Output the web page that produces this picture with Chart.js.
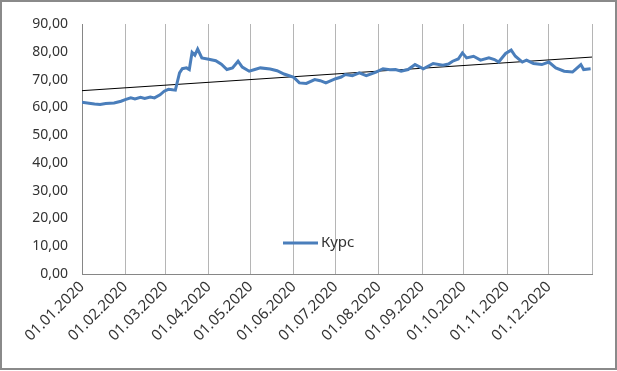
<!DOCTYPE html>
<html>
<head>
<meta charset="utf-8">
<script src="https://cdn.jsdelivr.net/npm/chart.js@4.4.1/dist/chart.umd.min.js"></script>
<style>
  html, body { margin: 0; padding: 0; background: #fff; }
  #wrap { position: relative; width: 617px; height: 371px; }
</style>
</head>
<body>
<div id="wrap"><canvas id="chart"></canvas></div>
<script>
// Курс (USD/RUB) 2020
const dates = [
  '01.01.2020','06.01.2020','10.01.2020','14.01.2020','18.01.2020','24.01.2020','29.01.2020',
  '01.02.2020','05.02.2020','08.02.2020','12.02.2020','15.02.2020','19.02.2020','22.02.2020','26.02.2020','29.02.2020',
  '03.03.2020','06.03.2020','08.03.2020','11.03.2020','13.03.2020','16.03.2020','18.03.2020','20.03.2020','22.03.2020','24.03.2020','27.03.2020',
  '01.04.2020','06.04.2020','10.04.2020','14.04.2020','18.04.2020','22.04.2020','25.04.2020','30.04.2020',
  '04.05.2020','08.05.2020','15.05.2020','20.05.2020','25.05.2020',
  '01.06.2020','05.06.2020','10.06.2020','16.06.2020','20.06.2020','24.06.2020',
  '01.07.2020','05.07.2020','08.07.2020','13.07.2020','18.07.2020','23.07.2020','30.07.2020',
  '04.08.2020','09.08.2020','13.08.2020','17.08.2020','22.08.2020','27.08.2020',
  '02.09.2020','09.09.2020','16.09.2020','20.09.2020','23.09.2020','27.09.2020','30.09.2020',
  '03.10.2020','08.10.2020','13.10.2020','19.10.2020','23.10.2020','26.10.2020','31.10.2020',
  '04.11.2020','07.11.2020','12.11.2020','15.11.2020','20.11.2020','26.11.2020',
  '01.12.2020','06.12.2020','12.12.2020','18.12.2020','20.12.2020','24.12.2020','26.12.2020','31.12.2020'
];
const rates = [
  61.8, 61.5, 61.2, 61.0, 61.4, 61.6, 62.2,
  62.8, 63.4, 63.0, 63.6, 63.2, 63.7, 63.4, 64.5, 65.8,
  66.5, 66.3, 66.2, 72.4, 73.9, 74.2, 73.6, 79.8, 78.8, 81.0, 77.8,
  77.3, 76.8, 75.5, 73.6, 74.2, 76.6, 74.5, 73.0,
  73.6, 74.2, 73.8, 73.2, 72.0,
  70.8, 68.8, 68.6, 70.0, 69.6, 68.8,
  70.3, 70.9, 71.8, 71.4, 72.4, 71.4, 72.7,
  73.9, 73.5, 73.6, 73.0, 73.6, 75.4,
  73.9, 75.8, 75.2, 75.6, 76.6, 77.4, 79.6,
  77.8, 78.4, 77.0, 77.8, 77.2, 76.3, 79.4,
  80.6, 78.4, 76.3, 77.0, 75.8, 75.4,
  76.3, 74.2, 73.0, 72.7, 73.6, 75.4, 73.6, 73.9
];
// linear trend line endpoints (01.01.2020 and 01.01.2021)
const trendDates = ['01.01.2020', '01.01.2021'];
const trendValues = [66.0, 78.1];

const monthTicks = ['01.01.2020','01.02.2020','01.03.2020','01.04.2020','01.05.2020','01.06.2020',
  '01.07.2020','01.08.2020','01.09.2020','01.10.2020','01.11.2020','01.12.2020','01.01.2021'];
const yTicks = [0, 10, 20, 30, 40, 50, 60, 70, 80, 90];

// day number since 01.01.2020
function dayOf(s) {
  const [d, m, y] = s.split('.').map(Number);
  return (Date.UTC(y, m - 1, d) - Date.UTC(2020, 0, 1)) / 86400000;
}
const tickDays = monthTicks.map(dayOf);
const lastDay = tickDays[tickDays.length - 1];

const fontFamily = "'Noto Sans', sans-serif";
const textColor = '#333333';
const lineBlue = '#4a7ebb';

// Legend drawn inside the plot, as in the original
const innerLegend = {
  id: 'innerLegend',
  afterDatasetsDraw(chart) {
    const { ctx } = chart;
    ctx.save();
    ctx.strokeStyle = lineBlue;
    ctx.lineWidth = 3;
    ctx.beginPath();
    ctx.moveTo(283, 243);
    ctx.lineTo(318, 243);
    ctx.stroke();
    ctx.fillStyle = textColor;
    ctx.font = '15px ' + fontFamily;
    ctx.textBaseline = 'middle';
    ctx.fillText('Курс', 321, 243);
    ctx.restore();
  }
};

const outerBorder = {
  id: 'outerBorder',
  afterDraw(chart) {
    const { ctx } = chart;
    ctx.save();
    ctx.strokeStyle = '#8a8a8a';
    ctx.lineWidth = 2;
    ctx.strokeRect(1, 1, chart.width - 2, chart.height - 3);
    ctx.restore();
  }
};

new Chart(document.getElementById('chart'), {
  type: 'line',
  data: {
    datasets: [
      {
        label: 'Курс',
        data: dates.map((d, i) => ({ x: dayOf(d), y: rates[i] })),
        borderColor: lineBlue,
        borderWidth: 3,
        pointRadius: 0,
        tension: 0,
        fill: false,
      },
      {
        label: 'trend',
        data: trendDates.map((d, i) => ({ x: dayOf(d), y: trendValues[i] })),
        borderColor: '#000',
        borderWidth: 1,
        pointRadius: 0,
        fill: false,
      }
    ]
  },
  options: {
    responsive: true,
    maintainAspectRatio: false,
    animation: false,
    devicePixelRatio: 1,
    layout: { padding: { top: 24, right: 25, left: 0, bottom: 0 } },
    plugins: {
      legend: { display: false },
      tooltip: { enabled: false }
    },
    scales: {
      x: {
        type: 'linear',
        min: 0,
        max: lastDay,
        afterBuildTicks: (scale) => { scale.ticks = tickDays.map(v => ({ value: v })); },
        afterFit: (scale) => { scale.height = 97; },
        ticks: {
          autoSkip: false,
          minRotation: 45,
          maxRotation: 45,
          padding: 4,
          color: textColor,
          font: { family: fontFamily, size: 15 },
          callback: (v) => {
            const i = tickDays.indexOf(v);
            return i >= 0 && i < tickDays.length - 1 ? monthTicks[i] : '';
          }
        },
        grid: { color: '#b5b5b5', lineWidth: 1, drawTicks: false },
        border: { color: '#868686', width: 1 }
      },
      y: {
        min: 0,
        max: 90,
        afterBuildTicks: (scale) => { scale.ticks = yTicks.map(v => ({ value: v })); },
        afterFit: (scale) => { scale.width = 82; },
        ticks: {
          padding: 14,
          color: textColor,
          font: { family: fontFamily, size: 14 },
          callback: (v) => v.toFixed(2).replace('.', ',')
        },
        grid: { display: false, drawTicks: false },
        border: { color: '#868686', width: 1 }
      }
    }
  },
  plugins: [innerLegend, outerBorder]
});
</script>
</body>
</html>
